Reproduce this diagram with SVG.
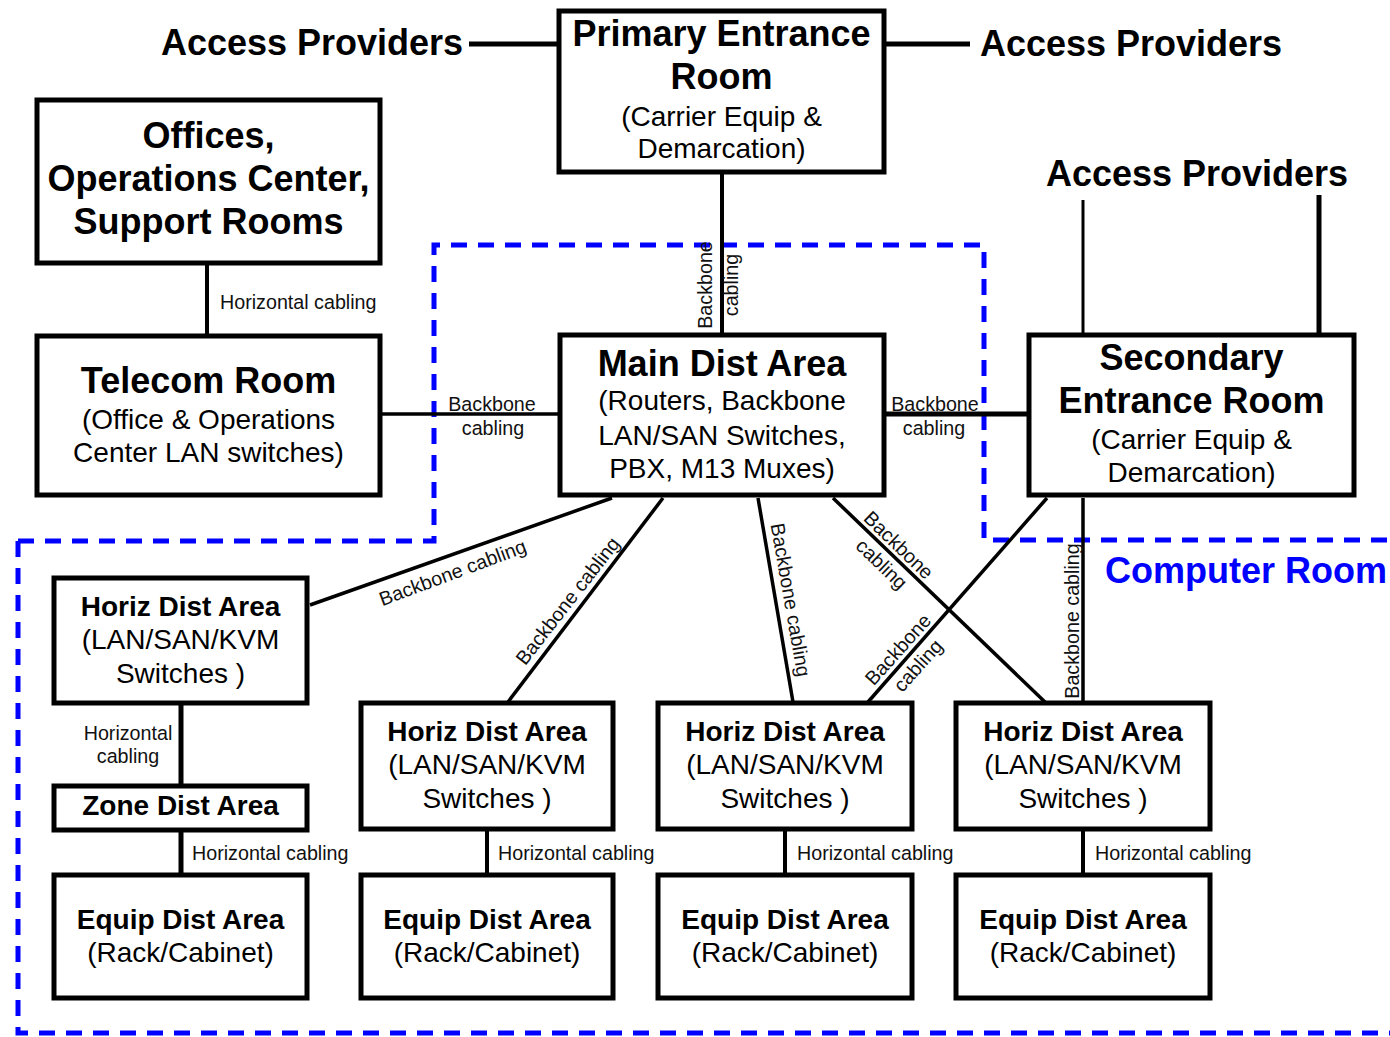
<svg xmlns="http://www.w3.org/2000/svg" width="1390" height="1037" viewBox="0 0 1390 1037">
<style>
.box{fill:#fff;stroke:#000;stroke-width:5}
.c{stroke:#000;fill:none}
.dash{stroke:#0000ff;stroke-width:5;fill:none;stroke-dasharray:16 11}
text{font-family:"Liberation Sans",Arial,sans-serif;fill:#000}
.h1{font-size:36px;font-weight:bold;text-anchor:middle}
.h2{font-size:28px;font-weight:bold;text-anchor:middle}
.r{font-size:28px;text-anchor:middle}
.l{font-size:19.7px;fill:#111}
.m{text-anchor:middle}
</style>
<rect width="1390" height="1037" fill="#fff"/>

<g id="computer-room">
<polyline class="dash" points="18,541 434,541 434,245 984,245 984,540 1390,540"/>
<polyline class="dash" points="18,541 18,1033 1390,1033"/>
<text x="1105" y="583" style="font-size:36px;font-weight:bold;fill:#0000ff">Computer Room</text>
</g>

<g id="connectors">
<line class="c" stroke-width="5" x1="469" y1="44" x2="558" y2="44"/>
<line class="c" stroke-width="5" x1="886" y1="44" x2="970" y2="44"/>
<line class="c" stroke-width="4" x1="722" y1="173" x2="722" y2="334"/>
<line class="c" stroke-width="4" x1="207" y1="264" x2="207" y2="335"/>
<line class="c" stroke-width="3.5" x1="381" y1="414" x2="559" y2="414"/>
<line class="c" stroke-width="5" x1="885" y1="414" x2="1028" y2="414"/>
<line class="c" stroke-width="3" x1="1083" y1="200" x2="1083" y2="334"/>
<line class="c" stroke-width="5" x1="1319" y1="195" x2="1319" y2="334"/>
<line class="c" stroke-width="3.5" x1="612" y1="498" x2="310" y2="605"/>
<line class="c" stroke-width="3.5" x1="663" y1="498" x2="508" y2="702"/>
<line class="c" stroke-width="3.5" x1="758" y1="498" x2="793" y2="702"/>
<line class="c" stroke-width="3.5" x1="833" y1="498" x2="1045" y2="702"/>
<line class="c" stroke-width="3.5" x1="1047" y1="498" x2="868" y2="702"/>
<line class="c" stroke-width="3.5" x1="1083" y1="498" x2="1083" y2="702"/>
<line class="c" stroke-width="5" x1="181" y1="703" x2="181" y2="786"/>
<line class="c" stroke-width="5" x1="181" y1="830" x2="181" y2="875"/>
<line class="c" stroke-width="4" x1="487" y1="830" x2="487" y2="875"/>
<line class="c" stroke-width="4" x1="785" y1="830" x2="785" y2="875"/>
<line class="c" stroke-width="4" x1="1083" y1="830" x2="1083" y2="875"/>

<text class="l" x="220" y="309">Horizontal cabling</text>
<text class="l" transform="translate(712,285) rotate(-90)" text-anchor="middle">Backbone</text>
<text class="l" transform="translate(738,285) rotate(-90)" text-anchor="middle">cabling</text>
<text class="l m" x="492" y="411">Backbone</text>
<text class="l m" x="493" y="435">cabling</text>
<text class="l m" x="935" y="411">Backbone</text>
<text class="l m" x="934" y="435">cabling</text>
<text class="l m" transform="translate(455,579) rotate(-20.5)">Backbone cabling</text>
<text class="l m" transform="translate(573,605) rotate(-52)">Backbone cabling</text>
<text class="l m" transform="translate(784,601) rotate(80)">Backbone cabling</text>
<text class="l m" transform="translate(894,550) rotate(44)">Backbone</text>
<text class="l m" transform="translate(877,569) rotate(44)">cabling</text>
<text class="l m" transform="translate(903,654) rotate(-48)">Backbone</text>
<text class="l m" transform="translate(923,670) rotate(-48)">cabling</text>
<text class="l m" transform="translate(1079,621) rotate(-90)">Backbone cabling</text>
<text class="l m" x="128" y="740">Horizontal</text>
<text class="l m" x="128" y="763">cabling</text>
<text class="l" x="192" y="860">Horizontal cabling</text>
<text class="l" x="498" y="860">Horizontal cabling</text>
<text class="l" x="797" y="860">Horizontal cabling</text>
<text class="l" x="1095" y="860">Horizontal cabling</text>
</g>

<g id="access-providers-left"><text class="h1" x="312" y="55">Access Providers</text></g>
<g id="access-providers-right"><text class="h1" x="1131" y="56">Access Providers</text></g>
<g id="access-providers-secondary"><text class="h1" x="1197" y="186">Access Providers</text></g>

<g id="primary-entrance-room">
<rect class="box" x="559" y="11" width="325" height="161"/>
<text class="h1" x="721.5" y="46">Primary Entrance</text>
<text class="h1" x="721.5" y="89">Room</text>
<text class="r" x="721.5" y="126">(Carrier Equip &amp;</text>
<text class="r" x="721.5" y="158">Demarcation)</text>
</g>

<g id="offices">
<rect class="box" x="37" y="100" width="343" height="163"/>
<text class="h1" x="208.5" y="148">Offices,</text>
<text class="h1" x="208.5" y="191">Operations Center,</text>
<text class="h1" x="208.5" y="234">Support Rooms</text>
</g>

<g id="telecom-room">
<rect class="box" x="37" y="336" width="343" height="159"/>
<text class="h1" x="208.5" y="393">Telecom Room</text>
<text class="r" x="208.5" y="429">(Office &amp; Operations</text>
<text class="r" x="208.5" y="462">Center LAN switches)</text>
</g>

<g id="main-dist-area">
<rect class="box" x="560" y="335" width="324" height="160"/>
<text class="h1" x="722" y="376">Main Dist Area</text>
<text class="r" x="722" y="410">(Routers, Backbone</text>
<text class="r" x="722" y="445">LAN/SAN Switches,</text>
<text class="r" x="722" y="478">PBX, M13 Muxes)</text>
</g>

<g id="secondary-entrance-room">
<rect class="box" x="1029" y="335" width="325" height="160"/>
<text class="h1" x="1191.5" y="370">Secondary</text>
<text class="h1" x="1191.5" y="413">Entrance Room</text>
<text class="r" x="1191.5" y="449">(Carrier Equip &amp;</text>
<text class="r" x="1191.5" y="482">Demarcation)</text>
</g>

<g id="hda-1">
<rect class="box" x="54" y="578" width="253" height="125"/>
<text class="h2" x="180.5" y="616">Horiz Dist Area</text>
<text class="r" x="180.5" y="649">(LAN/SAN/KVM</text>
<text class="r" x="180.5" y="683">Switches )</text>
</g>

<g id="zone-dist-area">
<rect class="box" x="54" y="786" width="253" height="44"/>
<text class="h2" x="180.5" y="815">Zone Dist Area</text>
</g>

<g id="eda-1">
<rect class="box" x="54" y="875" width="253" height="123"/>
<text class="h2" x="180.5" y="929">Equip Dist Area</text>
<text class="r" x="180.5" y="962">(Rack/Cabinet)</text>
</g>

<g id="hda-2">
<rect class="box" x="361" y="703" width="252" height="126"/>
<text class="h2" x="487" y="741">Horiz Dist Area</text>
<text class="r" x="487" y="774">(LAN/SAN/KVM</text>
<text class="r" x="487" y="808">Switches )</text>
</g>

<g id="hda-3">
<rect class="box" x="658" y="703" width="254" height="126"/>
<text class="h2" x="785" y="741">Horiz Dist Area</text>
<text class="r" x="785" y="774">(LAN/SAN/KVM</text>
<text class="r" x="785" y="808">Switches )</text>
</g>

<g id="hda-4">
<rect class="box" x="956" y="703" width="254" height="126"/>
<text class="h2" x="1083" y="741">Horiz Dist Area</text>
<text class="r" x="1083" y="774">(LAN/SAN/KVM</text>
<text class="r" x="1083" y="808">Switches )</text>
</g>

<g id="eda-2">
<rect class="box" x="361" y="875" width="252" height="123"/>
<text class="h2" x="487" y="929">Equip Dist Area</text>
<text class="r" x="487" y="962">(Rack/Cabinet)</text>
</g>

<g id="eda-3">
<rect class="box" x="658" y="875" width="254" height="123"/>
<text class="h2" x="785" y="929">Equip Dist Area</text>
<text class="r" x="785" y="962">(Rack/Cabinet)</text>
</g>

<g id="eda-4">
<rect class="box" x="956" y="875" width="254" height="123"/>
<text class="h2" x="1083" y="929">Equip Dist Area</text>
<text class="r" x="1083" y="962">(Rack/Cabinet)</text>
</g>
</svg>
